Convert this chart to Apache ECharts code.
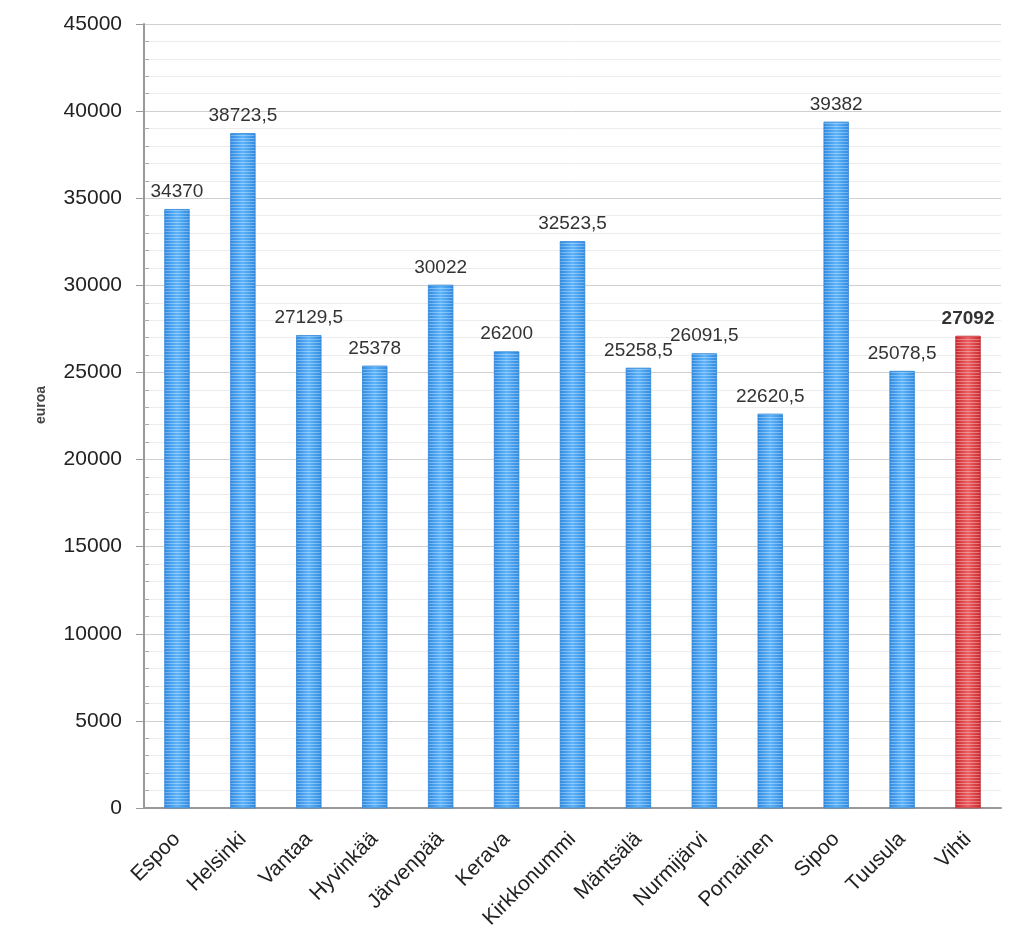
<!DOCTYPE html>
<html>
<head>
<meta charset="utf-8">
<script src="https://cdn.jsdelivr.net/npm/echarts@6/dist/echarts.min.js"></script>
<style>html,body{margin:0;padding:0;background:#fff}#c{width:1024px;height:945px}</style>
</head>
<body>
<div id="c"></div>
<script>
const categories = ['Espoo','Helsinki','Vantaa','Hyvinkää','Järvenpää','Kerava','Kirkkonummi','Mäntsälä','Nurmijärvi','Pornainen','Sipoo','Tuusula','Vihti'];
const values = [34370, 38723.5, 27129.5, 25378, 30022, 26200, 32523.5, 25258.5, 26091.5, 22620.5, 39382, 25078.5, 27092];
const highlight = 'Vihti';
const yTicks = [0, 5000, 10000, 15000, 20000, 25000, 30000, 35000, 40000, 45000];

const blue = {type:'linear',x:0,y:0,x2:1,y2:0,colorStops:[{offset:0,color:'#2f8ae0'},{offset:0.5,color:'#5fb4fa'},{offset:1,color:'#2f8ae0'}]};
const red = {type:'linear',x:0,y:0,x2:1,y2:0,colorStops:[{offset:0,color:'#cc2a30'},{offset:0.5,color:'#ec6064'},{offset:1,color:'#cc2a30'}]};
const decal = {symbol:'rect', color:'rgba(255,255,255,0.32)', dashArrayX:[1,0], dashArrayY:[1,2], symbolSize:1, rotation:0};
const fmt = v => String(v).replace('.', ',');
const FONT = 'Liberation Sans, Arial, sans-serif';

const data = categories.map((c,i)=>{
  const hi = c === highlight;
  return {
    value: values[i],
    itemStyle: {color: hi ? red : blue, borderColor: hi ? '#b81e22' : '#2a80d4', borderWidth: 0.5, decal: decal},
    label: hi ? {fontWeight:'bold', color:'#333'} : undefined
  };
});

const chart = echarts.init(document.getElementById('c'));
chart.setOption({
  animation:false,
  aria:{enabled:false, decal:{show:true}},
  grid:{left:144, right:23, top:24, bottom:137},
  xAxis:{
    type:'category', data:categories,
    axisLine:{lineStyle:{color:'#999', width:2}},
    axisTick:{show:false},
    axisLabel:{rotate:45, fontSize:21, color:'#222', fontFamily:FONT, margin:28, interval:0}
  },
  yAxis:{
    type:'value', min:yTicks[0], max:yTicks[yTicks.length-1], interval:yTicks[1]-yTicks[0],
    name:'euroa', nameLocation:'middle', nameGap:96,
    nameTextStyle:{fontWeight:'bold', fontSize:14, color:'#444', fontFamily:FONT, padding:[0,0,0,22]},
    axisLine:{show:true, lineStyle:{color:'#999', width:2}},
    axisTick:{show:true, length:8, lineStyle:{color:'#999'}},
    minorTick:{show:true, splitNumber:5, length:-5, lineStyle:{color:'#aaa'}},
    axisLabel:{fontSize:21, color:'#222', fontFamily:FONT, margin:22, formatter:v=>String(v)},
    splitLine:{show:true, lineStyle:{color:'#d0d0d0'}},
    minorSplitLine:{show:true, lineStyle:{color:'#ececec'}}
  },
  series:[{
    type:'bar', data:data, barWidth:25,
    label:{show:true, position:'top', distance:8, fontSize:19, color:'#333', fontFamily:FONT, formatter:p=>fmt(p.value)}
  }]
});
</script>
</body>
</html>
